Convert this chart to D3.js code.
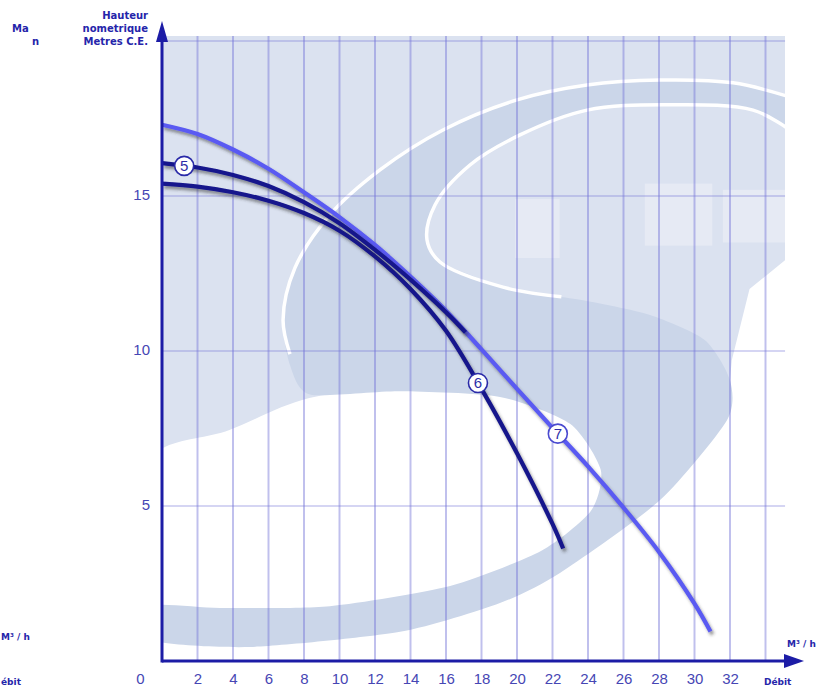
<!DOCTYPE html>
<html><head><meta charset="utf-8">
<script src="https://cdn.jsdelivr.net/npm/d3@7"></script>
<style>
body{margin:0;background:#fff;}
svg{display:block;font-family:"Liberation Sans",Arial,sans-serif;}
</style>
</head><body>
<svg id="c" width="836" height="693"></svg>
<script>
// ---------- data ----------
const xTicks = [0,2,4,6,8,10,12,14,16,18,20,22,24,26,28,30,32];
const yTicks = [5,10,15];
const gridX = [2,4,6,8,10,12,14,16,18,20,22,24,26,28,30,32,34];
const gridY = [5,10,15,20];
const curveNames = ["5","6","7"];
const curve5Q = [0,2,4,6,8,10,12,14,16,17.1];
const curve5H = [16.06,15.92,15.68,15.32,14.8,14.12,13.26,12.3,11.25,10.6];
const curve6Q = [0,2,4,6,8,10,12,14,16,18,20,22,22.6];
const curve6H = [15.4,15.3,15.12,14.85,14.45,13.88,13.05,12.0,10.65,8.78,6.7,4.42,3.63];
const curve7Q = [0,2,4,6,8,10,12,14,16,18,20,22,24,26,28,30,30.9];
const curve7H = [17.3,17.0,16.5,15.88,15.12,14.32,13.42,12.4,11.3,10.05,8.78,7.52,6.28,4.95,3.52,1.85,0.95];
const labelQ = [1.25,17.8,22.3];
const yTitleRows = [["","Hauteur"],["Ma","nometrique"],["n","Metres C.E."]];
const xUnit = "M³ / h";
const xTitle = "Débit";

// ---------- setup ----------
const svg = d3.select("#c");
const x = d3.scaleLinear().domain([0,34]).range([162,765.5]);
const y = d3.scaleLinear().domain([0,20]).range([661,41]);
const P = d=>[x(d[0]),y(d[1])];
const blue = "#1c1ca6";
const dark = "#15158c";
const light = "#5a5af2";
const txt = "#4646b4";
const qMax = 35.1, hMax = 20.16;

const defs = svg.append("defs");
const f = defs.append("filter").attr("id","sh").attr("x","-20%").attr("y","-20%").attr("width","140%").attr("height","140%");
f.append("feDropShadow").attr("dx",2).attr("dy",3).attr("stdDeviation",1.8)
 .attr("flood-color","#333").attr("flood-opacity",0.5);
defs.append("clipPath").attr("id","plot").append("rect")
  .attr("x",x(0)).attr("y",y(hMax)).attr("width",x(qMax)-x(0)).attr("height",y(0)-y(hMax));

// ---------- decorative "S" watermark (in data units) ----------
const deco = svg.append("g").attr("clip-path","url(#plot)");
deco.append("rect").attr("x",x(0)).attr("y",y(hMax)).attr("width",x(qMax)-x(0)).attr("height",y(0)-y(hMax)).attr("fill","#fff");
const closed = d3.line().curve(d3.curveCatmullRomClosed.alpha(0.5));
const open = d3.line().curve(d3.curveCatmullRom.alpha(0.5));
const lightArea = [[-0.7,20.4],[35.9,20.4],[35.9,13.3],[33.1,12.0],[32.1,9.7],[31.8,7.8],[24.7,5.2],[13.4,4.5],[-0.7,4.5]];
deco.append("path").attr("d",d3.line()(lightArea.map(P))).attr("fill","#dbe2f0");
const hole = [[-0.7,6.5],[3.8,7.45],[8.3,8.48],[13.4,8.74],[19.0,8.55],[23.0,7.68],[24.8,6.16],[24.2,4.81],[21.4,3.52],[16.2,2.39],[9.5,1.74],[3.3,1.68],[-0.7,1.74]];
deco.append("path").attr("d",closed(hole.map(P))).attr("fill","#fff");
const sBody = [[35.4,18.19],[32.17,18.65],[28.06,18.74],[23.94,18.58],[20.0,18.1],[15.83,17.13],[12.28,15.84],[9.46,14.39],[7.49,12.68],[6.82,11.0],[7.21,9.55],[8.34,8.6],
  [13.41,8.7],[19.04,8.52],[22.99,7.65],[24.72,6.16],[24.16,4.84],[21.35,3.55],[16.23,2.42],[9.46,1.77],[3.27,1.71],[-0.68,1.77],
  [-0.68,0.68],[4.96,0.45],[13.41,0.94],[19.04,1.87],[22.42,2.84],[28.06,5.19],[31.83,7.77],[32.0,9.06],[30.59,10.35],[27.49,11.16],[23.55,11.65],[20.17,11.9],
  [19.21,12.06],[15.66,12.87],[14.93,13.58],[15.38,14.71],[17.35,16.0],[20.17,16.97],[23.94,17.77],[28.45,17.94],[33.3,17.77],[35.38,17.13]];
deco.append("path").attr("d",d3.line().curve(d3.curveCardinalClosed.tension(0.3))(sBody.map(P))).attr("fill","#cbd6e9");
const blocks = [[19.9,13.0,22.4,14.9],[27.2,13.4,31.0,15.4],[31.6,13.5,35.2,15.2]];
deco.selectAll("rect.b").data(blocks).enter().append("rect").attr("class","b")
  .attr("x",d=>x(d[0])).attr("y",d=>y(d[3])).attr("width",d=>x(d[2])-x(d[0])).attr("height",d=>y(d[1])-y(d[3]))
  .attr("fill","#e6eaf4");
const wA = [[35.4,18.19],[32.17,18.65],[28.06,18.74],[23.94,18.58],[20.0,18.1],[15.83,17.13],[12.28,15.84],[9.46,14.39],[7.49,12.68],[6.82,11.0],[7.21,9.9]];
const wB = [[22.5,11.75],[19.21,12.06],[15.66,12.87],[14.93,13.58],[15.38,14.71],[17.35,16.0],[20.17,16.97],[23.94,17.77],[28.45,17.94],[33.3,17.77],[35.38,17.13]];
[wA,wB].forEach(w=>deco.append("path").attr("d",open(w.map(P))).attr("fill","none").attr("stroke","#fff").attr("stroke-width",3.5));

// ---------- grid ----------
const grid = svg.append("g");
grid.selectAll("line.v").data(gridX).enter().append("line")
  .attr("x1",d=>x(d)).attr("x2",d=>x(d)).attr("y1",y(hMax)).attr("y2",y(0))
  .attr("stroke","#7474d8").attr("stroke-opacity",0.45).attr("stroke-width",2);
grid.selectAll("line.h").data(gridY).enter().append("line")
  .attr("x1",x(0)).attr("x2",x(qMax)).attr("y1",d=>y(d)).attr("y2",d=>y(d))
  .attr("stroke","#7474d8").attr("stroke-opacity",0.3).attr("stroke-width",2);

// ---------- curves ----------
const series = [
  {name:curveNames[0], q:curve5Q, h:curve5H, color:dark},
  {name:curveNames[1], q:curve6Q, h:curve6H, color:dark},
  {name:curveNames[2], q:curve7Q, h:curve7H, color:light}
];
const line = d3.line().x(d=>x(d[0])).y(d=>y(d[1])).curve(d3.curveCatmullRom.alpha(0.5));
[2,1,0].forEach(i=>{
  const s = series[i];
  svg.append("path").datum(s.q.map((q,j)=>[q,s.h[j]]))
    .attr("d",line).attr("fill","none").attr("stroke",s.color).attr("stroke-width",4.2)
    .attr("filter","url(#sh)");
});
series.forEach((s,i)=>{
  const q = labelQ[i];
  const h = d3.scaleLinear().domain(s.q).range(s.h)(q);
  const g = svg.append("g").attr("transform",`translate(${x(q)},${y(h)})`);
  g.append("circle").attr("r",9.5).attr("fill","#fff").attr("stroke",s.color===light?"#4a4ad0":"#2a2aa8").attr("stroke-width",1.6);
  g.append("text").attr("text-anchor","middle").attr("dy","0.36em").attr("font-size",15)
    .attr("fill","#2e2ea8").text(s.name);
});

// ---------- axes ----------
svg.append("line").attr("x1",x(0)).attr("x2",787).attr("y1",y(0)).attr("y2",y(0)).attr("stroke",blue).attr("stroke-width",3);
svg.append("path").attr("d",`M784,654L804,${y(0)}L784,668Z`).attr("fill",blue);
svg.append("line").attr("x1",x(0)).attr("x2",x(0)).attr("y1",y(0)+1.5).attr("y2",40).attr("stroke",blue).attr("stroke-width",3);
svg.append("path").attr("d",`M${x(0)-6},42L${x(0)},21L${x(0)+6},42Z`).attr("fill",blue);

const xa = svg.append("g").attr("transform",`translate(0,${y(0)})`)
  .call(d3.axisBottom(x).tickValues(xTicks).tickSize(0).tickPadding(12).tickFormat(d3.format("d")));
xa.select(".domain").remove();
xa.selectAll("text").attr("font-size",15).attr("fill",txt).attr("font-family","'Liberation Sans',Arial,sans-serif")
  .attr("dx",d=>d===0?-22:0);
const ya = svg.append("g").attr("transform",`translate(${x(0)},0)`)
  .call(d3.axisLeft(y).tickValues(yTicks).tickSize(0).tickPadding(12).tickFormat(d3.format("d")));
ya.select(".domain").remove();
ya.selectAll("text").attr("font-size",15).attr("fill",txt).attr("font-family","'Liberation Sans',Arial,sans-serif").attr("dy","0.2em");

// ---------- titles ----------
const tt = svg.append("g").attr("font-weight","bold").attr("font-size",10).attr("font-family","'DejaVu Sans',sans-serif").attr("fill","#2525aa");
yTitleRows.forEach((r,i)=>{
  if(r[0]) tt.append("text").attr("x",i===1?12:32).attr("y",19+i*13).text(r[0]);
  tt.append("text").attr("x",148).attr("y",19+i*13).attr("text-anchor","end").text(r[1]);
});
const lab = svg.append("g").attr("font-weight","bold").attr("font-size",9).attr("font-family","'DejaVu Sans',sans-serif").attr("fill","#2525aa");
lab.append("text").attr("x",787).attr("y",647).text(xUnit);
lab.append("text").attr("x",764).attr("y",685).text(xTitle);
lab.append("text").attr("x",1).attr("y",640).text(xUnit);
lab.append("text").attr("x",1).attr("y",685).text("ébit");
</script>
</body></html>
